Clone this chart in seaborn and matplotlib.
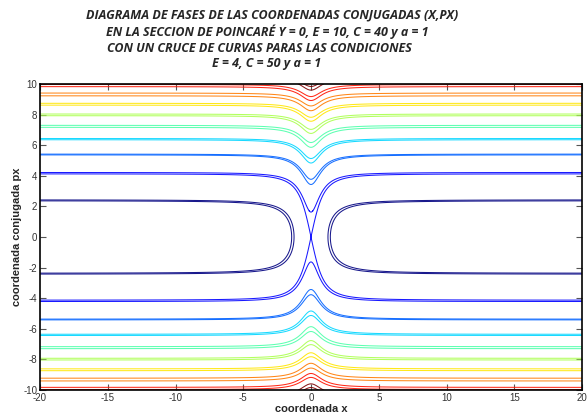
"""
Diagrama de fases (x, px) en la seccion de Poincare y = 0.
Dos familias de curvas de nivel: E=10, C=40, a=1 y E=4, C=50, a=1.
"""
import numpy as np
import matplotlib.pyplot as plt
import seaborn as sns

# ─────────────────────────────────────────────
# DATOS
# ─────────────────────────────────────────────
# momento asintotico px (|x| grande) de cada curva, familia 1 y familia 2
pinf_1 = [2.43, 4.22, 5.42, 6.44, 7.30, 8.04, 8.74, 9.41, 9.97, 10.58]
pinf_2 = [2.37, 4.13, 5.37, 6.36, 7.17, 7.93, 8.62, 9.23, 9.83, 10.45]
# px en x = 0 de la curva azul de la familia 1 (fondo de la "V")
p0_azul_1 = 1.63
a = 1.0

titulo = [
    "DIAGRAMA DE FASES DE LAS COORDENADAS CONJUGADAS (X,PX)",
    "EN LA SECCION DE POINCARÉ Y = 0, E = 10, C = 40 y a = 1",
    "CON UN CRUCE DE CURVAS PARAS LAS CONDICIONES",
    "E = 4, C = 50 y a = 1",
]
titulo_x = [272, 267, 259, 267]
titulo_y = [15, 32, 48, 64]

# altura de la barrera: familia 1 desde la curva azul, familia 2 = separatriz (cruce)
h1 = (pinf_1[1] ** 2 - p0_azul_1 ** 2) / 2
h2 = pinf_2[1] ** 2 / 2

# ─────────────────────────────────────────────
# MALLA
# ─────────────────────────────────────────────
x = np.linspace(-20, 20, 1601)
px = np.linspace(-11, 11, 881)
X, PX = np.meshgrid(x, px)
F1 = PX ** 2 / 2 + h1 / (X ** 2 + a)
F2 = PX ** 2 / 2 + h2 / (X ** 2 + a)
niveles_1 = [p ** 2 / 2 for p in pinf_1]
niveles_2 = [p ** 2 / 2 for p in pinf_2]

colores = plt.cm.jet(np.linspace(0, 1, len(pinf_1)))

# ─────────────────────────────────────────────
# GRAFICO
# ─────────────────────────────────────────────
sns.set_theme(style="white")
plt.rcParams["font.family"] = ["Liberation Sans", "DejaVu Sans"]
plt.rcParams["axes.unicode_minus"] = False

fig = plt.figure(figsize=(5.88, 4.16), dpi=100)
ax = fig.add_axes([40 / 588, 26 / 416, 542 / 588, 306 / 416])

ax.contour(X, PX, F1, levels=niveles_1, colors=colores, linewidths=0.75, alpha=0.9)
ax.contour(X, PX, F2, levels=niveles_2, colors=colores, linewidths=0.75, alpha=0.9)

ax.set_xlim(-20, 20)
ax.set_ylim(-10, 10)
ax.set_xticks(np.arange(-20, 21, 5))
ax.set_yticks(np.arange(-10, 11, 2))
ax.tick_params(direction="in", length=4, width=0.8, color="#555555",
               labelsize=7, labelcolor="#333333", top=True, right=True,
               bottom=True, left=True, pad=2)
for s in ax.spines.values():
    s.set_color("black")
    s.set_linewidth(1.2)

ax.set_xlabel("coordenada x", fontsize=8, fontweight="bold", labelpad=1)
ax.set_ylabel("coordenada conjugada px", fontsize=8, fontweight="bold", labelpad=1)

for t, tx, ty in zip(titulo, titulo_x, titulo_y):
    fig.text(tx / 588, 1 - ty / 416, t, ha="center", va="center",
             fontsize=9, fontweight="bold", fontstyle="italic",
             family=["Open Sans", "DejaVu Sans"])

fig.savefig("out.png", dpi=100)
